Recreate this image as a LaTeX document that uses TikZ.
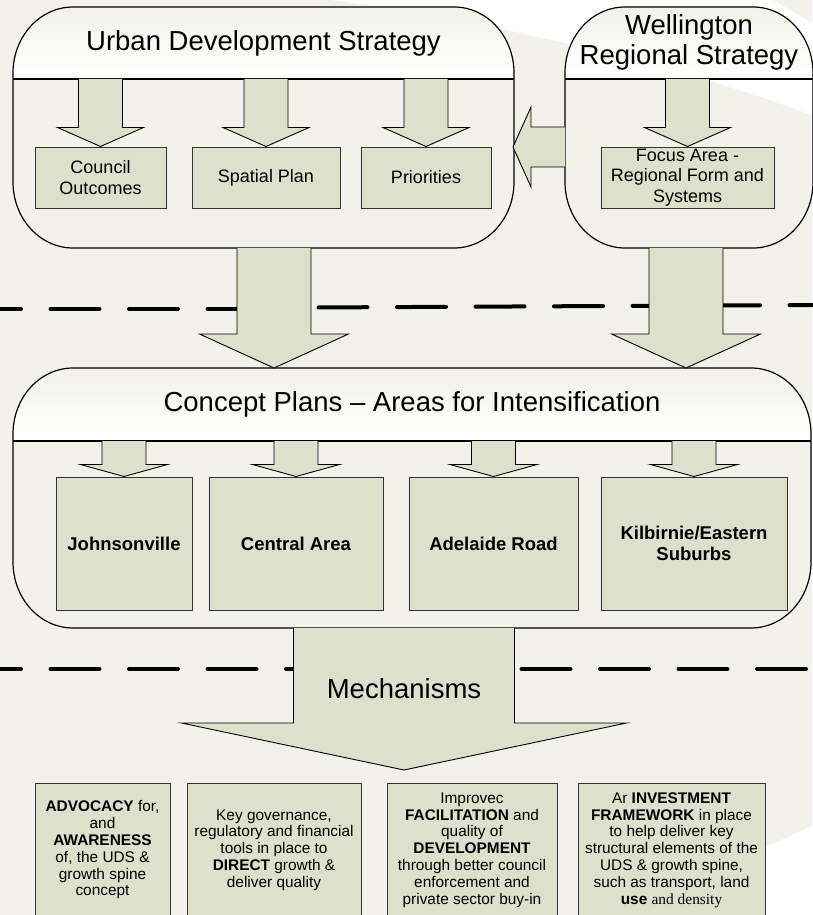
\documentclass[tikz,border=0pt]{standalone}
\usepackage{fontspec}
\setmainfont{Liberation Sans}
\newfontfamily\serifpart{Liberation Serif}
\usepackage{tikz}
\usetikzlibrary{calc}
\definecolor{bgc}{RGB}{242,242,234}
\definecolor{boxc}{RGB}{221,224,203}

\newcommand{\panelpath}[4]{(#1,#2+66) arc[start angle=180,end angle=270,x radius=60,y radius=66] -- (#3-60,#2) arc[start angle=270,end angle=360,x radius=60,y radius=66] -- (#3,#4-66) arc[start angle=0,end angle=90,x radius=60,y radius=66] -- (#1+60,#4) arc[start angle=90,end angle=180,x radius=60,y radius=66] -- cycle}
\newcommand{\roundpanel}[5]{%
  \begin{scope}
    \clip \panelpath{#1}{#2}{#3}{#4};
    \shade[top color=bgc,bottom color=white] (#1,#2) rectangle (#3,#5);
  \end{scope}
  \draw[panel line] \panelpath{#1}{#2}{#3}{#4};
  \draw[panel line] (#1,#5) -- (#3,#5);}
\newcommand{\blkdown}[5]{%
  \draw[block] let \p1=(#1), \p2=(#2) in (\x1-#3,\y1) -- (\x1-#3,\y2+#5) -- (\x1-#4,\y2+#5) -- (\x1,\y2) -- (\x1+#4,\y2+#5) -- (\x1+#3,\y2+#5) -- (\x1+#3,\y1);}

\begin{document}
\begin{tikzpicture}[x=1pt,y=-1pt,
    panel line/.style={draw=black,line width=1.2pt},
    block/.style={fill=boxc,draw=black,line width=0.9pt},
    box/.style={draw=black!80,fill=boxc,line width=1pt,align=center,inner sep=0pt,font=\fontsize{18}{20.5}\selectfont},
    areabox/.style={box,minimum height=133,font=\fontsize{18.5}{20.7}\selectfont\bfseries},
    mechbox/.style={box,minimum height=134,font=\fontsize{15.4}{16.8}\selectfont},
    title/.style={inner sep=0pt,align=center,font=\fontsize{27.5}{30}\selectfont},
    sep line/.style={line width=4pt,line cap=round,dash pattern=on 49pt off 29.5pt}]
  \useasboundingbox (0,0) rectangle (812,915);
  \fill[bgc] (0,0) rectangle (812,915);
  \fill[white] (330,0) .. controls (450,15) and (650,55) .. (812,115) -- (812,23) -- (773,0) -- cycle;
  \fill[white] (640,915) .. controls (700,875) and (760,850) .. (812,826) -- (812,915) -- cycle;

  \draw[sep line,dash phase=28pt] (0,309) -- (237,309);
  \draw[sep line,dash phase=71pt] (311,307.5) -- (812,305);
  \draw[sep line,dash phase=28pt] (0,669) -- (812,669);

  \roundpanel{13}{7}{514}{248}{79}
  \roundpanel{565}{7}{813}{248}{79}
  \roundpanel{13}{368}{811}{628}{441}

  \node[title] (udst) at (263.5,43) {Urban Development Strategy};
  \node[title] (wrst) at (689,42) {Wellington\\Regional Strategy};
  \node[title] (cpt) at (412,404.5) {Concept Plans -- Areas for Intensification};

  \coordinate (udsh) at (0,79);
  \coordinate (cph) at (0,441);
  \coordinate (cptop) at (0,368);
  \coordinate (udsout) at (274,248);
  \coordinate (wrsout) at (686,248);
  \coordinate (cpout) at (404,628);
  \coordinate (mechtip) at (404,770);
  \coordinate (udse) at (513,147);
  \coordinate (wrsw) at (565,147);

  \node[box,minimum width=131,minimum height=61] (co) at (100.5,177.5) {Council\\Outcomes};
  \node[box,minimum width=148,minimum height=61] (sp) at (266,177.5) {Spatial Plan};
  \node[box,minimum width=130,minimum height=61] (pr) at (426,177.5) {Priorities};
  \node[box,minimum width=173,minimum height=61] (fa) at (687.5,177.5) {Focus Area -\\Regional Form and\\Systems};

  \blkdown{co.north |- udsh}{co.north}{22pt}{43pt}{19pt}
  \blkdown{sp.north |- udsh}{sp.north}{22pt}{43pt}{19pt}
  \blkdown{pr.north |- udsh}{pr.north}{22pt}{43pt}{19pt}
  \blkdown{fa.north |- udsh}{fa.north}{22pt}{43pt}{19pt}
  \draw[block] let \p1=(wrsw), \p2=(udse) in (\x1,\y1+20pt) -- (\x2+18pt,\y1+20pt) -- (\x2+18pt,\y1+40pt) -- (\x2,\y2) -- (\x2+18pt,\y1-40pt) -- (\x2+18pt,\y1-20pt) -- (\x1,\y1-20pt);

  \node[areabox,minimum width=136] (jv) at (124,543.5) {Johnsonville};
  \node[areabox,minimum width=174] (ca) at (296,543.5) {Central Area};
  \node[areabox,minimum width=169] (ar) at (493.5,543.5) {Adelaide Road};
  \node[areabox,minimum width=186] (ke) at (694,543.5) {Kilbirnie/Eastern\\Suburbs};

  \blkdown{jv.north |- cph}{jv.north}{22pt}{43.5pt}{12pt}
  \blkdown{ca.north |- cph}{ca.north}{22pt}{43.5pt}{12pt}
  \blkdown{ar.north |- cph}{ar.north}{22pt}{43.5pt}{12pt}
  \blkdown{ke.north |- cph}{ke.north}{22pt}{43.5pt}{12pt}

  \blkdown{udsout}{udsout |- cptop}{37pt}{74.5pt}{34pt}
  \blkdown{wrsout}{wrsout |- cptop}{37pt}{74.5pt}{34pt}
  \blkdown{cpout}{mechtip}{110.5pt}{222.5pt}{47pt}
  \node[title] (mech) at (404,689) {Mechanisms};

  \node[mechbox,minimum width=135] (adv) at (102.5,850) {\textbf{ADVOCACY} for,\\and\\\textbf{AWARENESS}\\of, the UDS \&\\growth spine\\concept};
  \node[mechbox,minimum width=174] (dir) at (274,850) {Key governance,\\regulatory and financial\\tools in place to\\\textbf{DIRECT} growth \&\\deliver quality};
  \node[mechbox,minimum width=170] (fac) at (472,850) {Improvec\\\textbf{FACILITATION} and\\quality of\\\textbf{DEVELOPMENT}\\through better council\\enforcement and\\private sector buy-in};
  \node[mechbox,minimum width=187] (inv) at (671.5,850) {Ar \textbf{INVESTMENT}\\\textbf{FRAMEWORK} in place\\to help deliver key\\structural elements of the\\UDS \& growth spine,\\such as transport, land\\\textbf{use} {\serifpart and density}};
\end{tikzpicture}
\end{document}
